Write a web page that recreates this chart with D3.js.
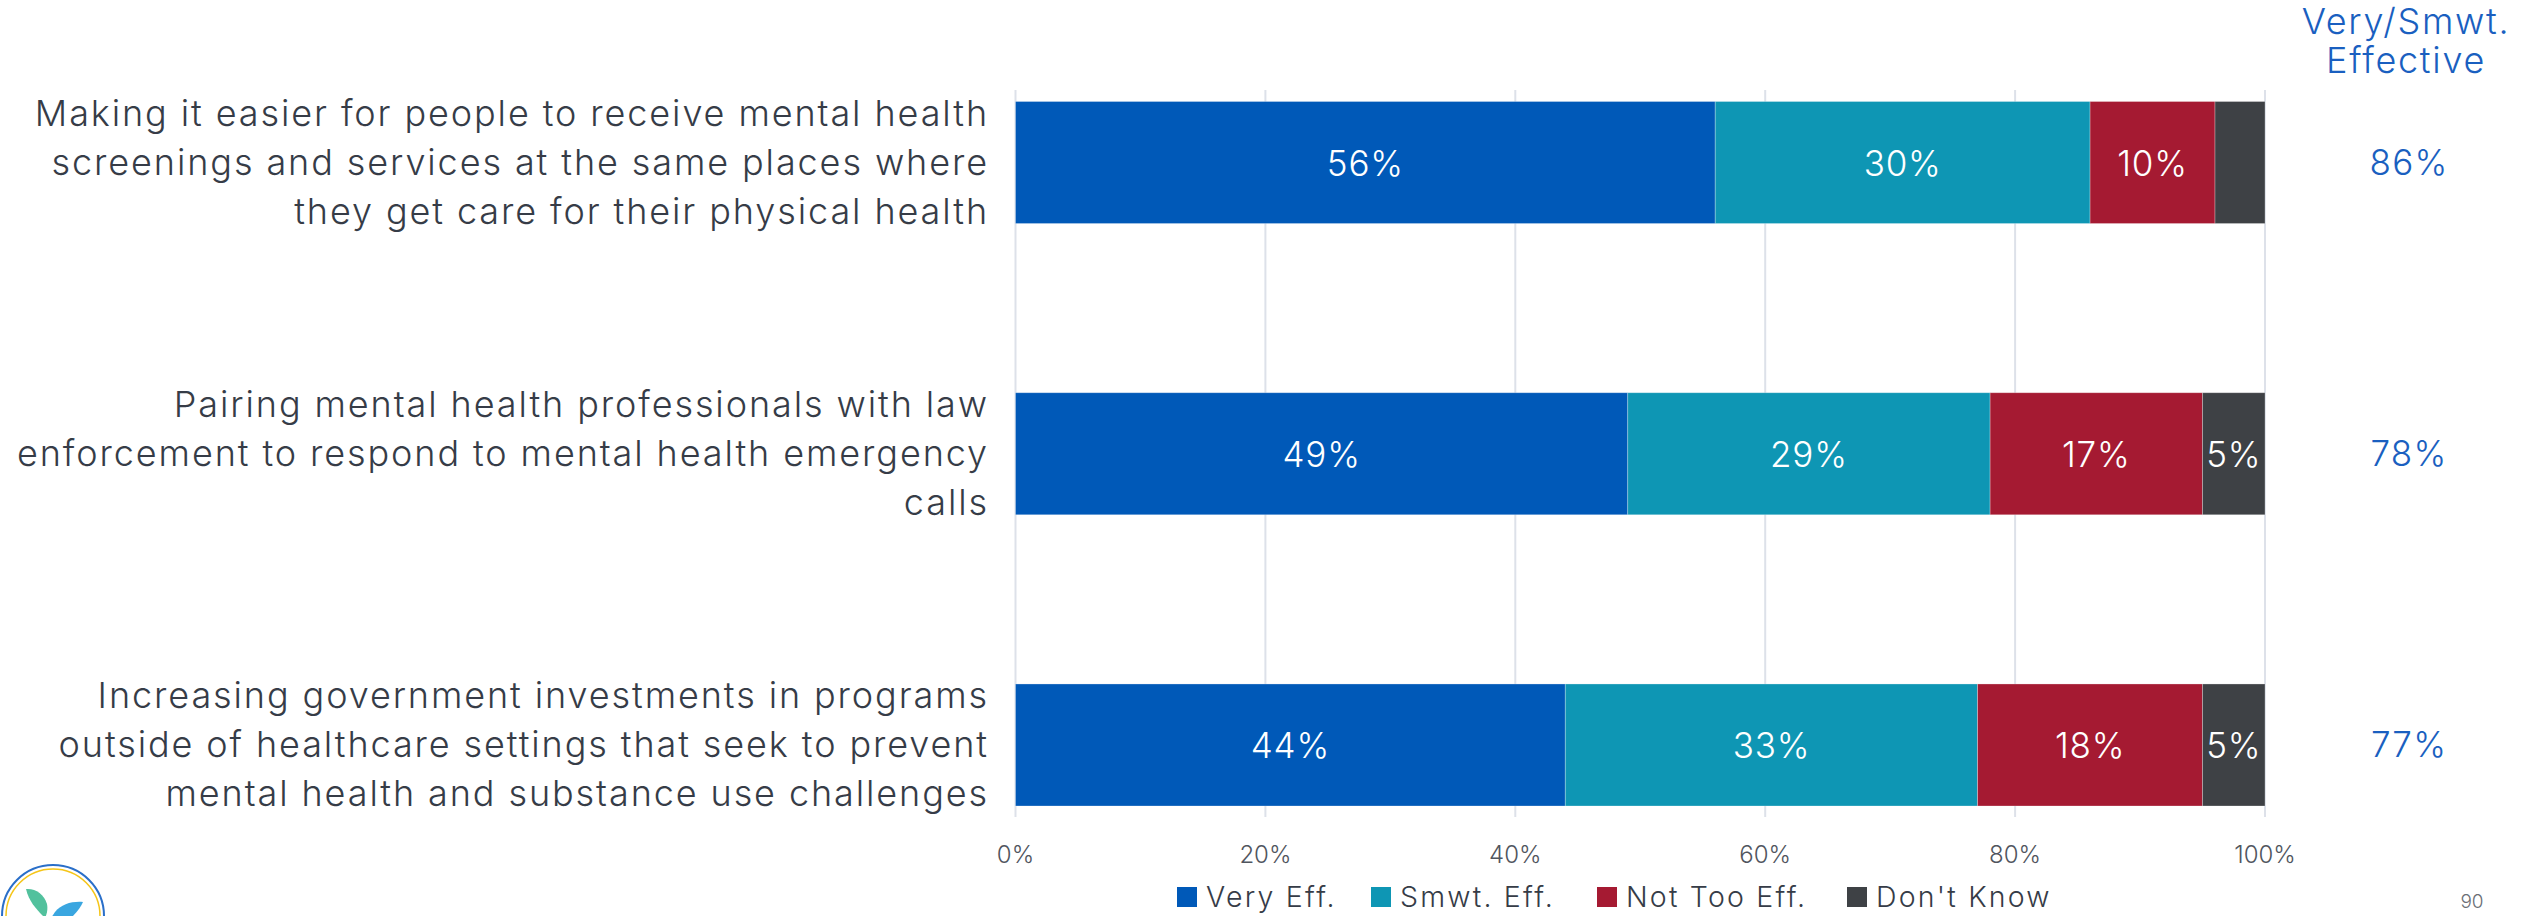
<!DOCTYPE html>
<html>
<head>
<meta charset="utf-8">
<script src="https://cdn.jsdelivr.net/npm/d3@7"></script>
<style>
  html, body { margin: 0; padding: 0; background: #ffffff; }
  svg { display: block; }
  text { font-family: Inter, "Open Sans", sans-serif; }
</style>
</head>
<body>
<svg id="chart" width="2522" height="916"></svg>
<script>
// Survey items (each wrapped onto three lines)
const categories = [
  ["Making it easier for people to receive mental health",
   "screenings and services at the same places where",
   "they get care for their physical health"],
  ["Pairing mental health professionals with law",
   "enforcement to respond to mental health emergency",
   "calls"],
  ["Increasing government investments in programs",
   "outside of healthcare settings that seek to prevent",
   "mental health and substance use challenges"]
];

// Response shares (%)
const seriesNames = ["Very Eff.", "Smwt. Eff.", "Not Too Eff.", "Don't Know"];
const veryEff   = [56, 49, 44];
const smwtEff   = [30, 29, 33];
const notTooEff = [10, 17, 18];
const dontKnow  = [4, 5, 5];
const totalEffective = [86, 78, 77];
const xTicks = [0, 20, 40, 60, 80, 100];
const headerLines = ["Very/Smwt.", "Effective"];
const pageNumber = "90";

const colors = ["#0059b8", "#0e96b4", "#a51a32", "#3e4145"];

const svg = d3.select("#chart");
const keys = categories.map((c, i) => i);

const x = d3.scaleLinear().domain([0, 100]).range([1015.5, 2265]);
const y = d3.scaleBand().domain(keys).range([101.5, 806]).paddingInner(0.581).paddingOuter(0);

// Rows for stacking
const rows = keys.map(i => ({
  key: i,
  "Very Eff.": veryEff[i],
  "Smwt. Eff.": smwtEff[i],
  "Not Too Eff.": notTooEff[i],
  "Don't Know": dontKnow[i]
}));
const stacked = d3.stack().keys(seriesNames)(rows);

// Vertical gridlines
svg.append("g")
  .selectAll("line")
  .data(xTicks)
  .join("line")
  .attr("x1", d => x(d)).attr("x2", d => x(d))
  .attr("y1", y.range()[0] - 11.5).attr("y2", y.range()[1] + 11)
  .attr("stroke", "#dde1e9")
  .attr("stroke-width", 2);

// Tick labels
svg.append("g")
  .selectAll("text")
  .data(xTicks)
  .join("text")
  .attr("x", d => x(d))
  .attr("y", 863)
  .attr("text-anchor", "middle")
  .attr("font-size", 24)
  .attr("font-weight", 300)
  .attr("fill", "#50555e")
  .text(d => d + "%");

// Stacked bars
const layers = svg.append("g")
  .selectAll("g")
  .data(stacked)
  .join("g")
  .attr("fill", (d, i) => colors[i]);

layers.selectAll("rect")
  .data(d => d)
  .join("rect")
  .attr("x", d => x(d[0]))
  .attr("y", d => y(d.data.key))
  .attr("width", d => x(d[1]) - x(d[0]))
  .attr("height", y.bandwidth())
  .attr("stroke", "#ffffff")
  .attr("stroke-opacity", 0.35)
  .attr("stroke-width", 0.8);

// Segment value labels
layers.selectAll("text")
  .data(d => d.filter(s => s[1] - s[0] >= 5))
  .join("text")
  .attr("x", d => (x(d[0]) + x(d[1])) / 2)
  .attr("y", d => y(d.data.key) + y.bandwidth() / 2 + 13)
  .attr("text-anchor", "middle")
  .attr("font-size", 35)
  .attr("font-weight", 300)
  .attr("letter-spacing", 0.8)
  .attr("fill", "#ffffff")
  .text(d => (d[1] - d[0]) + "%");

// Category labels
const catG = svg.append("g")
  .selectAll("text")
  .data(categories)
  .join("text")
  .attr("text-anchor", "end")
  .attr("font-size", 36)
  .attr("font-weight", 300)
  .attr("letter-spacing", 1.9)
  .attr("fill", "#363c47");
catG.each(function(lines, i) {
  const cy = y(i) + y.bandwidth() / 2;
  d3.select(this).selectAll("tspan")
    .data(lines)
    .join("tspan")
    .attr("x", 989)
    .attr("y", (d, j) => cy + 12 + (j - (lines.length - 1) / 2) * 49)
    .text(d => d);
});

// Column header
svg.append("text")
  .attr("text-anchor", "middle")
  .attr("font-size", 36)
  .attr("font-weight", 350)
  .attr("letter-spacing", 1.7)
  .attr("fill", "#1a5fc0")
  .selectAll("tspan")
  .data(headerLines)
  .join("tspan")
  .attr("x", 2406)
  .attr("y", (d, j) => 34 + j * 39)
  .text(d => d);

// Combined effective share per row
svg.append("g")
  .selectAll("text")
  .data(totalEffective)
  .join("text")
  .attr("x", 2409)
  .attr("y", (d, i) => y(i) + y.bandwidth() / 2 + 12)
  .attr("text-anchor", "middle")
  .attr("font-size", 35)
  .attr("font-weight", 350)
  .attr("letter-spacing", 1.2)
  .attr("fill", "#1a5fc0")
  .text(d => d + "%");

// Legend
const legendX = [1177, 1371, 1597, 1847];
const legend = svg.append("g")
  .selectAll("g")
  .data(seriesNames)
  .join("g")
  .attr("transform", (d, i) => `translate(${legendX[i]},887)`);
legend.append("rect")
  .attr("width", 20).attr("height", 20)
  .attr("fill", (d, i) => colors[i]);
legend.append("text")
  .attr("x", 29)
  .attr("y", 20)
  .attr("font-size", 28.5)
  .attr("font-weight", 300)
  .attr("letter-spacing", 2.2)
  .attr("fill", "#363c47")
  .text(d => d);

// Page number
svg.append("text")
  .attr("x", 2472).attr("y", 908)
  .attr("text-anchor", "middle")
  .attr("font-size", 19)
  .attr("font-weight", 300)
  .attr("fill", "#6b6f76")
  .text(pageNumber);

// Logo badge, bottom-left
const logo = svg.append("g").attr("transform", "translate(53,916)");
logo.append("circle").attr("r", 51).attr("fill", "#ffffff")
  .attr("stroke", "#2a6fc9").attr("stroke-width", 2);
logo.append("circle").attr("r", 47).attr("fill", "none")
  .attr("stroke", "#f5c518").attr("stroke-width", 1.5);
logo.append("path")
  .attr("d", "M-27,-27 C-18,-28 -9,-22 -6,-12 C-5,-7 -6,-2 -8,2 C-16,-6 -24,-14 -27,-27 Z")
  .attr("fill", "#52c19d");
logo.append("path")
  .attr("d", "M30,-14 C20,-15 8,-12 2,-4 L-2,2 L18,2 C24,-4 28,-9 30,-14 Z")
  .attr("fill", "#3aa6e0");
</script>
</body>
</html>
